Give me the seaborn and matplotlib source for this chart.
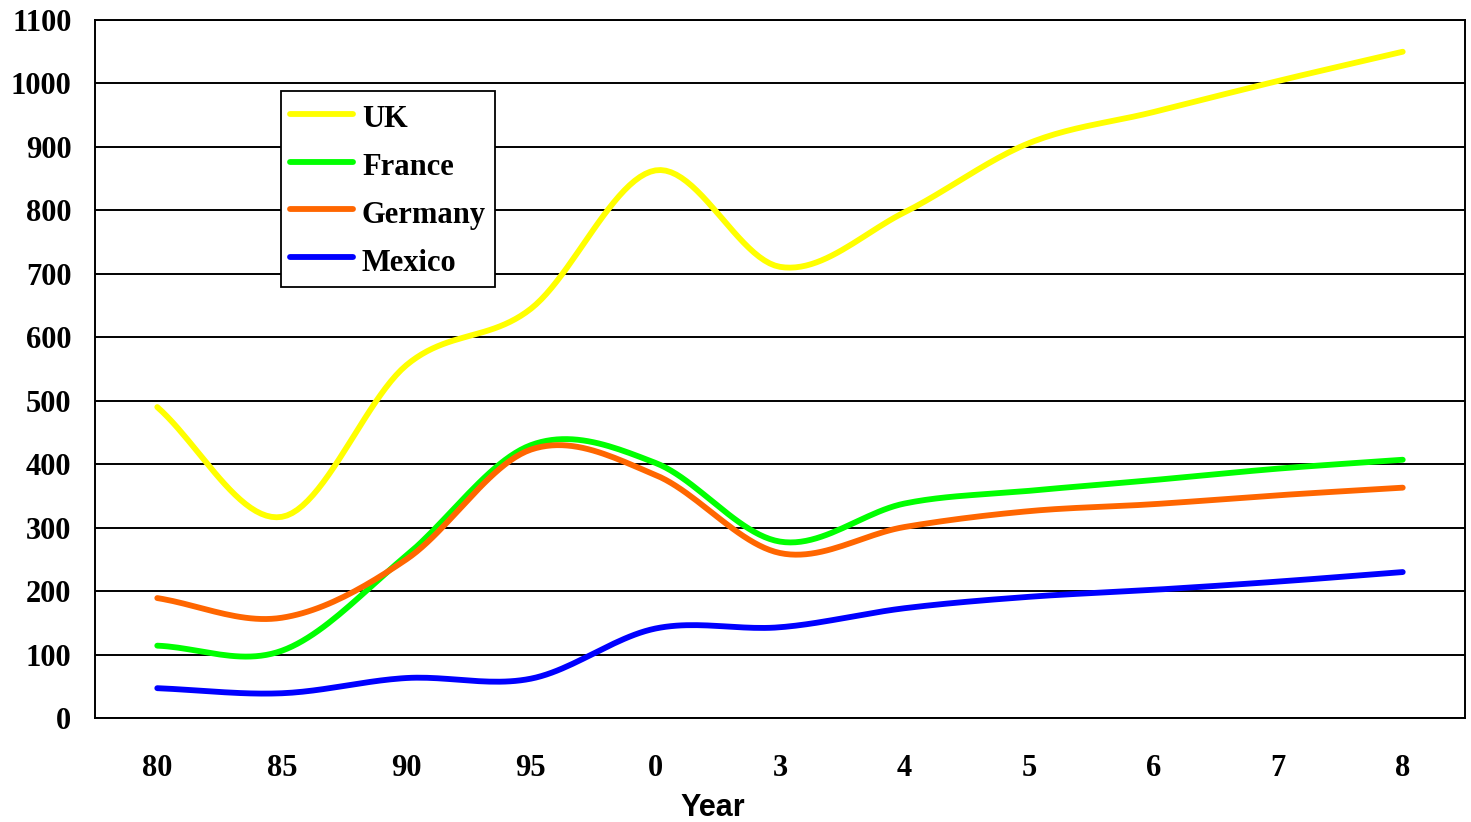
import numpy as np
import pandas as pd
import matplotlib
matplotlib.use("Agg")
import matplotlib.pyplot as plt
from matplotlib.lines import Line2D
import seaborn as sns

# Data
years = ["80", "85", "90", "95", "0", "3", "4", "5", "6", "7", "8"]
uk = [490, 317, 556, 645, 863, 711, 797, 906, 955, 1004, 1050]
france = [114, 106, 256, 430, 402, 278, 338, 358, 375, 393, 407]
germany = [189, 158, 250, 423, 383, 260, 301, 326, 337, 351, 363]
mexico = [47, 39, 63, 62, 141, 143, 173, 191, 202, 215, 230]
series_names = ["UK", "France", "Germany", "Mexico"]
series_values = [uk, france, germany, mexico]
colors = ["#FFFF00", "#00FF00", "#FF6600", "#0000FF"]
y_ticks = list(range(0, 1101, 100))


def smooth(values, steps=24):
    """Smoothed-line rendering: cubic Catmull-Rom segments through each point."""
    p = np.asarray(values, dtype=float)
    ext = np.concatenate([[2 * p[0] - p[1]], p, [2 * p[-1] - p[-2]]])
    xs, ys = [], []
    n = len(p)
    for i in range(n - 1):
        p0, p1, p2, p3 = ext[i], ext[i + 1], ext[i + 2], ext[i + 3]
        t = np.linspace(0, 1, steps, endpoint=(i == n - 2))
        y = 0.5 * (2 * p1 + (-p0 + p2) * t
                   + (2 * p0 - 5 * p1 + 4 * p2 - p3) * t ** 2
                   + (-p0 + 3 * p1 - 3 * p2 + p3) * t ** 3)
        xs.append(i + t)
        ys.append(y)
    return np.concatenate(xs), np.concatenate(ys)


frames = []
for name, vals in zip(series_names, series_values):
    sx, sy = smooth(vals)
    frames.append(pd.DataFrame({"pos": sx, "value": sy, "Country": name}))
df = pd.concat(frames, ignore_index=True)

sns.set_style("white")
plt.rcParams["font.family"] = ["Liberation Serif", "DejaVu Serif"]
plt.rcParams["font.weight"] = "bold"
for key in ("text.color", "axes.labelcolor", "xtick.color", "ytick.color"):
    plt.rcParams[key] = "black"

fig = plt.figure(figsize=(14.71, 8.22), dpi=100)
ax = fig.add_axes([95 / 1471, 1 - 718 / 822, 1370 / 1471, 698 / 822])

line_w = 4.2
sns.lineplot(data=df, x="pos", y="value", hue="Country", hue_order=series_names,
             palette=colors, sort=False, estimator=None, linewidth=line_w,
             legend=False, ax=ax, zorder=3)
for line in ax.get_lines():
    line.set_solid_capstyle("round")
    line.set_solid_joinstyle("round")

ax.set_xlim(-0.5, len(years) - 0.5)
ax.set_ylim(0, 1100)
ax.set_yticks(y_ticks)
ax.set_yticklabels([str(v) for v in y_ticks], fontsize=22, fontweight="bold", color="black")
ax.set_xticks(range(len(years)))
ax.set_xticklabels(years, fontsize=22, fontweight="bold", color="black")
ax.set_xticks(np.arange(-0.5, len(years), 1.0), minor=True)
ax.tick_params(axis="x", which="major", length=0, pad=26)
ax.tick_params(axis="x", which="minor", length=7, width=1.3, direction="out", color="black")
ax.tick_params(axis="y", which="major", length=7, width=1.3, direction="out", pad=10, color="black")
ax.set_xlabel("")
ax.set_ylabel("")

ax.yaxis.grid(True, color="black", linewidth=1.4)
ax.xaxis.grid(False)
ax.set_axisbelow(True)
for s in ax.spines.values():
    s.set_visible(True)
    s.set_color("black")
    s.set_linewidth(1.4)

handles = [Line2D([0], [0], color=c, lw=line_w, solid_capstyle="round") for c in colors]
leg = ax.legend(handles, series_names, loc="upper left",
                bbox_to_anchor=((281 - 95) / 1370, (718 - 91) / 698),
                borderaxespad=0, fancybox=False, frameon=True, edgecolor="black",
                prop={"family": "Liberation Serif", "weight": "bold", "size": 22},
                handlelength=2.05, handleheight=1.32, handletextpad=0.3,
                labelspacing=0.45, borderpad=0.3)
leg.get_frame().set_linewidth(1.3)
leg.get_frame().set_alpha(1)
for txt in leg.get_texts():
    txt.set_color("black")

fig.text(713 / 1471, 1 - 808 / 822, "Year", ha="center", va="center",
         fontsize=22, fontweight="bold", color="black",
         family=["Liberation Sans", "DejaVu Sans"])

fig.savefig("out.png", dpi=100, facecolor="white")
